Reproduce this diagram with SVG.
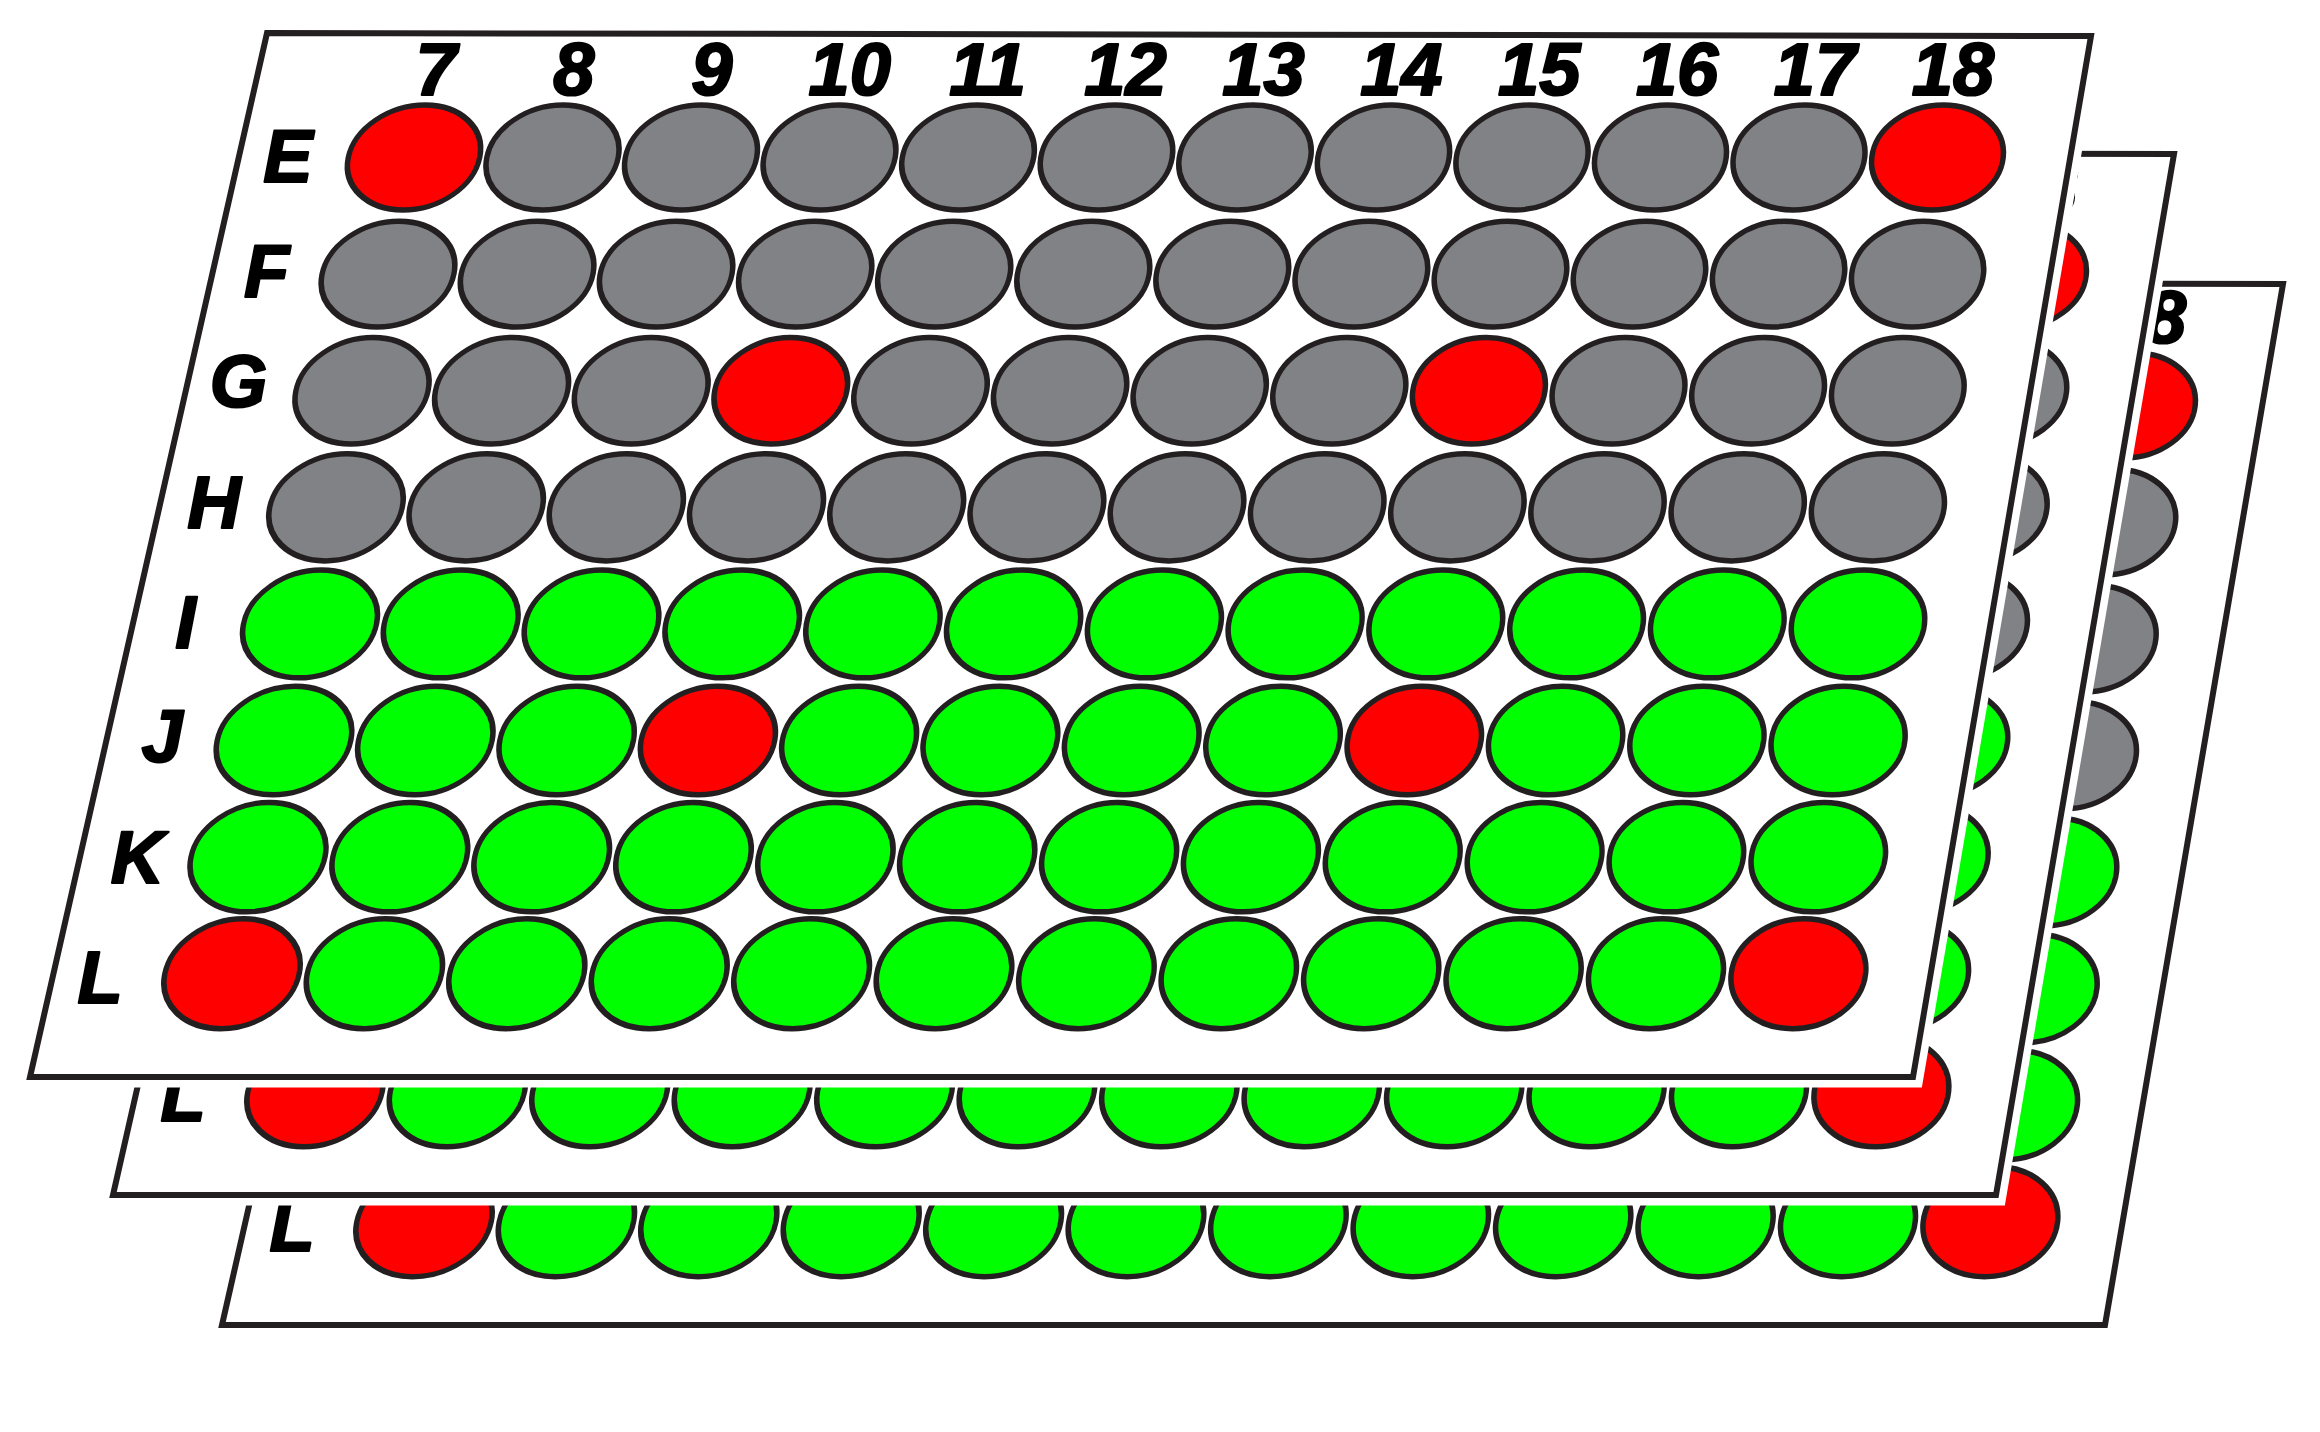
<svg xmlns="http://www.w3.org/2000/svg" xmlns:xlink="http://www.w3.org/1999/xlink" width="2320" height="1432" viewBox="0 0 2320 1432">
<style>
.halo{fill:#fff;stroke:#fff;stroke-width:21;stroke-linejoin:miter}
.edge{fill:none;stroke:#231f20;stroke-width:6;stroke-linejoin:miter}
.w{stroke:#231f20;stroke-width:5.5}
.g{fill:#808285}.n{fill:#00ff00}.r{fill:#ff0000}
.lbl{font-family:"Liberation Sans",Arial,sans-serif;font-weight:bold;font-style:italic;font-size:74px;fill:#000;stroke:#000;stroke-width:2.2;stroke-linejoin:round;text-anchor:middle}
.st{text-anchor:start}
</style>
<defs>
<g id="wells">
<g id="row-E">
<ellipse class="w r" rx="65.7" ry="52.5" transform="translate(414 157.5) skewX(-11.5)"/>
<ellipse class="w g" rx="65.7" ry="52.5" transform="translate(552.5 157.5) skewX(-11)"/>
<ellipse class="w g" rx="65.7" ry="52.5" transform="translate(691 157.5) skewX(-10.5)"/>
<ellipse class="w g" rx="65.7" ry="52.5" transform="translate(829.5 157.5) skewX(-10)"/>
<ellipse class="w g" rx="65.7" ry="52.5" transform="translate(968 157.5) skewX(-9.5)"/>
<ellipse class="w g" rx="65.7" ry="52.5" transform="translate(1106.5 157.5) skewX(-9)"/>
<ellipse class="w g" rx="65.7" ry="52.5" transform="translate(1245 157.5) skewX(-8.5)"/>
<ellipse class="w g" rx="65.7" ry="52.5" transform="translate(1383.5 157.5) skewX(-8)"/>
<ellipse class="w g" rx="65.7" ry="52.5" transform="translate(1522 157.5) skewX(-7.5)"/>
<ellipse class="w g" rx="65.7" ry="52.5" transform="translate(1660.5 157.5) skewX(-7)"/>
<ellipse class="w g" rx="65.7" ry="52.5" transform="translate(1799 157.5) skewX(-6.5)"/>
<ellipse class="w r" rx="65.7" ry="52.5" transform="translate(1937.5 157.5) skewX(-6)"/>
</g>
<g id="row-F">
<ellipse class="w g" rx="65.9" ry="52.9" transform="translate(388 274.1) skewX(-11.5)"/>
<ellipse class="w g" rx="65.9" ry="52.9" transform="translate(527.1 274.1) skewX(-11)"/>
<ellipse class="w g" rx="65.9" ry="52.9" transform="translate(666.1 274.1) skewX(-10.5)"/>
<ellipse class="w g" rx="65.9" ry="52.9" transform="translate(805.2 274.1) skewX(-10)"/>
<ellipse class="w g" rx="65.9" ry="52.9" transform="translate(944.2 274.1) skewX(-9.5)"/>
<ellipse class="w g" rx="65.9" ry="52.9" transform="translate(1083.3 274.1) skewX(-9)"/>
<ellipse class="w g" rx="65.9" ry="52.9" transform="translate(1222.3 274.1) skewX(-8.5)"/>
<ellipse class="w g" rx="65.9" ry="52.9" transform="translate(1361.4 274.1) skewX(-8)"/>
<ellipse class="w g" rx="65.9" ry="52.9" transform="translate(1500.5 274.1) skewX(-7.5)"/>
<ellipse class="w g" rx="65.9" ry="52.9" transform="translate(1639.5 274.1) skewX(-7)"/>
<ellipse class="w g" rx="65.9" ry="52.9" transform="translate(1778.6 274.1) skewX(-6.5)"/>
<ellipse class="w g" rx="65.9" ry="52.9" transform="translate(1917.6 274.1) skewX(-6)"/>
</g>
<g id="row-G">
<ellipse class="w g" rx="66.1" ry="53.2" transform="translate(362 390.7) skewX(-11.5)"/>
<ellipse class="w g" rx="66.1" ry="53.2" transform="translate(501.6 390.7) skewX(-11)"/>
<ellipse class="w g" rx="66.1" ry="53.2" transform="translate(641.2 390.7) skewX(-10.5)"/>
<ellipse class="w r" rx="66.1" ry="53.2" transform="translate(780.8 390.7) skewX(-10)"/>
<ellipse class="w g" rx="66.1" ry="53.2" transform="translate(920.5 390.7) skewX(-9.5)"/>
<ellipse class="w g" rx="66.1" ry="53.2" transform="translate(1060.1 390.7) skewX(-9)"/>
<ellipse class="w g" rx="66.1" ry="53.2" transform="translate(1199.7 390.7) skewX(-8.5)"/>
<ellipse class="w g" rx="66.1" ry="53.2" transform="translate(1339.3 390.7) skewX(-8)"/>
<ellipse class="w r" rx="66.1" ry="53.2" transform="translate(1478.9 390.7) skewX(-7.5)"/>
<ellipse class="w g" rx="66.1" ry="53.2" transform="translate(1618.5 390.7) skewX(-7)"/>
<ellipse class="w g" rx="66.1" ry="53.2" transform="translate(1758.1 390.7) skewX(-6.5)"/>
<ellipse class="w g" rx="66.1" ry="53.2" transform="translate(1897.8 390.7) skewX(-6)"/>
</g>
<g id="row-H">
<ellipse class="w g" rx="66.3" ry="53.6" transform="translate(336 507.3) skewX(-11.5)"/>
<ellipse class="w g" rx="66.3" ry="53.6" transform="translate(476.2 507.3) skewX(-11)"/>
<ellipse class="w g" rx="66.3" ry="53.6" transform="translate(616.3 507.3) skewX(-10.5)"/>
<ellipse class="w g" rx="66.3" ry="53.6" transform="translate(756.5 507.3) skewX(-10)"/>
<ellipse class="w g" rx="66.3" ry="53.6" transform="translate(896.7 507.3) skewX(-9.5)"/>
<ellipse class="w g" rx="66.3" ry="53.6" transform="translate(1036.9 507.3) skewX(-9)"/>
<ellipse class="w g" rx="66.3" ry="53.6" transform="translate(1177 507.3) skewX(-8.5)"/>
<ellipse class="w g" rx="66.3" ry="53.6" transform="translate(1317.2 507.3) skewX(-8)"/>
<ellipse class="w g" rx="66.3" ry="53.6" transform="translate(1457.4 507.3) skewX(-7.5)"/>
<ellipse class="w g" rx="66.3" ry="53.6" transform="translate(1597.5 507.3) skewX(-7)"/>
<ellipse class="w g" rx="66.3" ry="53.6" transform="translate(1737.7 507.3) skewX(-6.5)"/>
<ellipse class="w g" rx="66.3" ry="53.6" transform="translate(1877.9 507.3) skewX(-6)"/>
</g>
<g id="row-I">
<ellipse class="w n" rx="66.5" ry="53.9" transform="translate(310 623.9) skewX(-11.5)"/>
<ellipse class="w n" rx="66.5" ry="53.9" transform="translate(450.7 623.9) skewX(-11)"/>
<ellipse class="w n" rx="66.5" ry="53.9" transform="translate(591.5 623.9) skewX(-10.5)"/>
<ellipse class="w n" rx="66.5" ry="53.9" transform="translate(732.2 623.9) skewX(-10)"/>
<ellipse class="w n" rx="66.5" ry="53.9" transform="translate(872.9 623.9) skewX(-9.5)"/>
<ellipse class="w n" rx="66.5" ry="53.9" transform="translate(1013.6 623.9) skewX(-9)"/>
<ellipse class="w n" rx="66.5" ry="53.9" transform="translate(1154.4 623.9) skewX(-8.5)"/>
<ellipse class="w n" rx="66.5" ry="53.9" transform="translate(1295.1 623.9) skewX(-8)"/>
<ellipse class="w n" rx="66.5" ry="53.9" transform="translate(1435.8 623.9) skewX(-7.5)"/>
<ellipse class="w n" rx="66.5" ry="53.9" transform="translate(1576.6 623.9) skewX(-7)"/>
<ellipse class="w n" rx="66.5" ry="53.9" transform="translate(1717.3 623.9) skewX(-6.5)"/>
<ellipse class="w n" rx="66.5" ry="53.9" transform="translate(1858 623.9) skewX(-6)"/>
</g>
<g id="row-J">
<ellipse class="w n" rx="66.8" ry="54.3" transform="translate(284 740.5) skewX(-11.5)"/>
<ellipse class="w n" rx="66.8" ry="54.3" transform="translate(425.3 740.5) skewX(-11)"/>
<ellipse class="w n" rx="66.8" ry="54.3" transform="translate(566.6 740.5) skewX(-10.5)"/>
<ellipse class="w r" rx="66.8" ry="54.3" transform="translate(707.9 740.5) skewX(-10)"/>
<ellipse class="w n" rx="66.8" ry="54.3" transform="translate(849.1 740.5) skewX(-9.5)"/>
<ellipse class="w n" rx="66.8" ry="54.3" transform="translate(990.4 740.5) skewX(-9)"/>
<ellipse class="w n" rx="66.8" ry="54.3" transform="translate(1131.7 740.5) skewX(-8.5)"/>
<ellipse class="w n" rx="66.8" ry="54.3" transform="translate(1273 740.5) skewX(-8)"/>
<ellipse class="w r" rx="66.8" ry="54.3" transform="translate(1414.3 740.5) skewX(-7.5)"/>
<ellipse class="w n" rx="66.8" ry="54.3" transform="translate(1555.6 740.5) skewX(-7)"/>
<ellipse class="w n" rx="66.8" ry="54.3" transform="translate(1696.9 740.5) skewX(-6.5)"/>
<ellipse class="w n" rx="66.8" ry="54.3" transform="translate(1838.1 740.5) skewX(-6)"/>
</g>
<g id="row-K">
<ellipse class="w n" rx="67" ry="54.7" transform="translate(258 857.1) skewX(-11.5)"/>
<ellipse class="w n" rx="67" ry="54.7" transform="translate(399.8 857.1) skewX(-11)"/>
<ellipse class="w n" rx="67" ry="54.7" transform="translate(541.7 857.1) skewX(-10.5)"/>
<ellipse class="w n" rx="67" ry="54.7" transform="translate(683.5 857.1) skewX(-10)"/>
<ellipse class="w n" rx="67" ry="54.7" transform="translate(825.4 857.1) skewX(-9.5)"/>
<ellipse class="w n" rx="67" ry="54.7" transform="translate(967.2 857.1) skewX(-9)"/>
<ellipse class="w n" rx="67" ry="54.7" transform="translate(1109.1 857.1) skewX(-8.5)"/>
<ellipse class="w n" rx="67" ry="54.7" transform="translate(1250.9 857.1) skewX(-8)"/>
<ellipse class="w n" rx="67" ry="54.7" transform="translate(1392.7 857.1) skewX(-7.5)"/>
<ellipse class="w n" rx="67" ry="54.7" transform="translate(1534.6 857.1) skewX(-7)"/>
<ellipse class="w n" rx="67" ry="54.7" transform="translate(1676.4 857.1) skewX(-6.5)"/>
<ellipse class="w n" rx="67" ry="54.7" transform="translate(1818.3 857.1) skewX(-6)"/>
</g>
<g id="row-L">
<ellipse class="w r" rx="67.2" ry="55" transform="translate(232 973.7) skewX(-11.5)"/>
<ellipse class="w n" rx="67.2" ry="55" transform="translate(374.4 973.7) skewX(-11)"/>
<ellipse class="w n" rx="67.2" ry="55" transform="translate(516.8 973.7) skewX(-10.5)"/>
<ellipse class="w n" rx="67.2" ry="55" transform="translate(659.2 973.7) skewX(-10)"/>
<ellipse class="w n" rx="67.2" ry="55" transform="translate(801.6 973.7) skewX(-9.5)"/>
<ellipse class="w n" rx="67.2" ry="55" transform="translate(944 973.7) skewX(-9)"/>
<ellipse class="w n" rx="67.2" ry="55" transform="translate(1086.4 973.7) skewX(-8.5)"/>
<ellipse class="w n" rx="67.2" ry="55" transform="translate(1228.8 973.7) skewX(-8)"/>
<ellipse class="w n" rx="67.2" ry="55" transform="translate(1371.2 973.7) skewX(-7.5)"/>
<ellipse class="w n" rx="67.2" ry="55" transform="translate(1513.6 973.7) skewX(-7)"/>
<ellipse class="w n" rx="67.2" ry="55" transform="translate(1656 973.7) skewX(-6.5)"/>
<ellipse class="w r" rx="67.2" ry="55" transform="translate(1798.4 973.7) skewX(-6)"/>
</g>
</g>
<polygon id="plate-shape" points="267,33 2091,36 1913,1077 30,1077"/>
</defs>

<g id="plate-3" transform="translate(192 248)">
<use href="#plate-shape" class="halo"/>
<use href="#plate-shape" class="edge"/>
<use href="#wells"/>
<text class="lbl" x="100" y="1003">L</text>
<text class="lbl st" x="1952.9" y="95">8</text>
</g>

<g id="plate-2" transform="translate(83 118)">
<use href="#plate-shape" class="halo"/>
<use href="#plate-shape" class="edge"/>
<use href="#wells"/>
<text class="lbl" x="100" y="1003">L</text>
<text class="lbl st" x="1952.9" y="95">8</text>
</g>

<g id="plate-1">
<use href="#plate-shape" class="halo"/>
<use href="#plate-shape" class="edge"/>
<use href="#wells"/>
<g id="col-labels">
<text class="lbl" x="436" y="95">7</text>
<text class="lbl" x="573.9" y="95">8</text>
<text class="lbl" x="711.8" y="95">9</text>
<text class="lbl" x="849.7" y="95">10</text>
<text class="lbl" x="987.6" y="95">11</text>
<text class="lbl" x="1125.5" y="95">12</text>
<text class="lbl" x="1263.4" y="95">13</text>
<text class="lbl" x="1401.3" y="95">14</text>
<text class="lbl" x="1539.2" y="95">15</text>
<text class="lbl" x="1677.1" y="95">16</text>
<text class="lbl" x="1815" y="95">17</text>
<text class="lbl" x="1952.9" y="95">18</text>
</g>
<g id="row-labels">
<text class="lbl" x="288" y="182">E</text>
<text class="lbl" x="266.5" y="297">F</text>
<text class="lbl" x="238.5" y="407">G</text>
<text class="lbl" x="214" y="528">H</text>
<text class="lbl" x="185.5" y="648">I</text>
<text class="lbl" x="162" y="762">J</text>
<text class="lbl" x="137.5" y="883">K</text>
<text class="lbl" x="100" y="1003">L</text>
</g>
</g>
</svg>
